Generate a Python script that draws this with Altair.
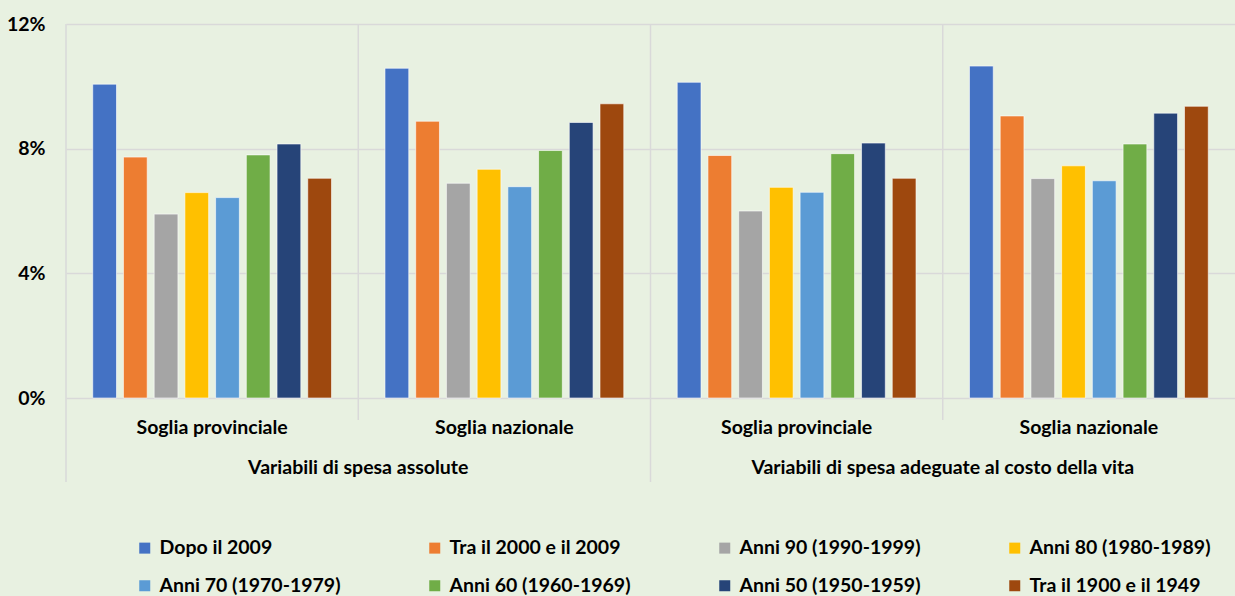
import altair as alt
import pandas as pd

series = ["Dopo il 2009", "Tra il 2000 e il 2009", "Anni 90 (1990-1999)", "Anni 80 (1980-1989)",
          "Anni 70 (1970-1979)", "Anni 60 (1960-1969)", "Anni 50 (1950-1959)", "Tra il 1900 e il 1949"]
colors = ["#4472C4", "#ED7D31", "#A5A5A5", "#FFC000", "#5B9BD5", "#70AD47", "#264478", "#9E480E"]
groups = ["Variabili di spesa assolute", "Variabili di spesa adeguate al costo della vita"]
soglie = ["Soglia provinciale", "Soglia nazionale"]

assolute_provinciale = [10.07, 7.73, 5.90, 6.59, 6.43, 7.80, 8.15, 7.05]
assolute_nazionale = [10.58, 8.88, 6.89, 7.34, 6.78, 7.94, 8.84, 9.44]
adeguate_provinciale = [10.13, 7.78, 6.00, 6.76, 6.60, 7.84, 8.18, 7.05]
adeguate_nazionale = [10.65, 9.05, 7.04, 7.45, 6.97, 8.15, 9.14, 9.36]

value_sets = [assolute_provinciale, assolute_nazionale, adeguate_provinciale, adeguate_nazionale]
keys = []
rows = []
for gi, g in enumerate(groups):
    for si, s in enumerate(soglie):
        k = f"{gi * 2 + si}|{s}"
        keys.append(k)
        for ser, v in zip(series, value_sets[gi * 2 + si]):
            rows.append({"key": k, "serie": ser, "valore": v})
df = pd.DataFrame(rows)

FONT = "Lato"
FS = 19.5
BG = "#E8F1E1"
GRID = "#D9D9D9"

xscale = alt.Scale(domain=keys, paddingInner=0, paddingOuter=0)

bars = alt.Chart(df).mark_bar(stroke="white", strokeWidth=1, strokeOpacity=0.6).encode(
    x=alt.X("key:N", scale=xscale, title=None, sort=keys,
            axis=alt.Axis(labelExpr="split(datum.label,'|')[1]", labelAngle=0, labelAlign="center",
                          ticks=False, tickSize=0,
                          domain=False, grid=False, labelPadding=29, labelFont=FONT,
                          labelFontSize=FS, labelFontWeight="bold", labelColor="#000000")),
    xOffset=alt.XOffset("serie:N", sort=series,
                        scale=alt.Scale(domain=series, paddingInner=0.226, paddingOuter=0.87)),
    y=alt.Y("valore:Q", title=None,
            scale=alt.Scale(domain=[0, 12], nice=False),
            axis=alt.Axis(values=[0, 4, 8, 12], labelExpr="datum.value + '%'", ticks=False, tickSize=0,
                          domain=False, grid=True, gridColor=GRID, gridWidth=1.5, labelPadding=21,
                          labelFont=FONT, labelFontSize=FS, labelFontWeight="bold", labelColor="#000000")),
    color=alt.Color("serie:N", sort=series, scale=alt.Scale(domain=series, range=colors),
                    legend=alt.Legend(orient="none", legendX=69, legendY=514, direction="horizontal",
                                      columns=4, gridAlign="all", columnPadding=84, rowPadding=17,
                                      symbolType="square", symbolSize=121, symbolStrokeWidth=0,
                                      labelOffset=5, labelLimit=400, labelFont=FONT, labelFontSize=FS,
                                      labelFontWeight="bold", labelColor="#000000", title=None)),
)

sep_long = pd.DataFrame({"key": [keys[0], keys[2]]})
sep_short = pd.DataFrame({"key": [keys[1], keys[3]]})

rules_long = alt.Chart(sep_long).mark_rule(color=GRID, strokeWidth=1.5).encode(
    x=alt.X("key:N", scale=xscale, sort=keys, bandPosition=0),
    y=alt.value(0), y2=alt.value(458),
)
rules_short = alt.Chart(sep_short).mark_rule(color=GRID, strokeWidth=1.5).encode(
    x=alt.X("key:N", scale=xscale, sort=keys, bandPosition=0),
    y=alt.value(0), y2=alt.value(396),
)

main_df = pd.DataFrame({"key": [keys[1], keys[3]], "label": groups})
main_labels = alt.Chart(main_df).mark_text(font=FONT, fontSize=FS, fontWeight="bold", color="#000000",
                                           baseline="middle", align="center").encode(
    x=alt.X("key:N", scale=xscale, sort=keys, bandPosition=0),
    y=alt.value(444),
    text="label:N",
)

chart = alt.layer(rules_long, rules_short, bars, main_labels).properties(
    width=1169, height=374,
    autosize=alt.AutoSizeParams(type="none"),
    padding={"left": 66, "top": 24, "right": 0, "bottom": 198},
    background=BG,
).configure_view(stroke=None)

chart.save("out.html", embed_options={"renderer": "svg", "actions": False})
